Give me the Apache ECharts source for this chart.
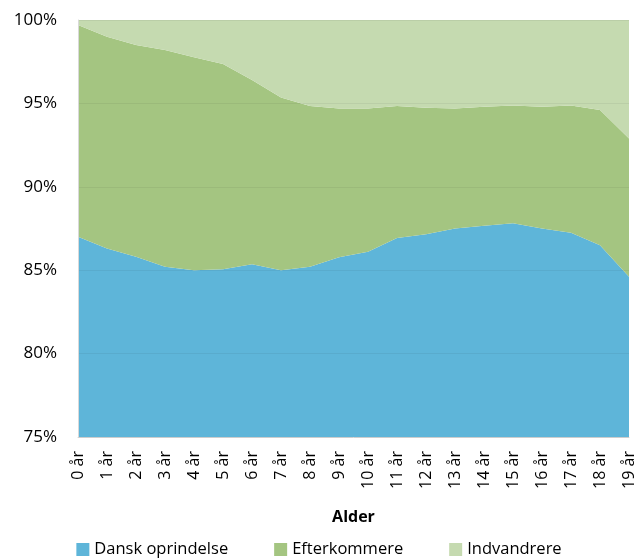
<!DOCTYPE html>
<html><head><meta charset="utf-8">
<script src="https://cdn.jsdelivr.net/npm/echarts@6/dist/echarts.min.js"></script>
<style>html,body{margin:0;padding:0;background:#fff}#c{width:638px;height:559px}</style>
</head><body><div id="c"></div>
<script>
const categories = ['0 år','1 år','2 år','3 år','4 år','5 år','6 år','7 år','8 år','9 år','10 år','11 år','12 år','13 år','14 år','15 år','16 år','17 år','18 år','19 år'];
const dansk = [87.0,86.3,85.8,85.2,85.0,85.05,85.35,85.0,85.2,85.77,86.1,86.93,87.15,87.5,87.67,87.81,87.5,87.25,86.5,84.6];
const efterkommere = [12.7,12.7,12.7,13.0,12.76,12.31,11.05,10.36,9.64,8.93,8.6,7.91,7.59,7.2,7.13,7.07,7.3,7.63,8.1,8.3];
const indvandrere = [0.3,1.0,1.5,1.8,2.24,2.64,3.6,4.64,5.16,5.3,5.3,5.16,5.26,5.3,5.2,5.12,5.2,5.12,5.4,7.1];
const yTicks = [75,80,85,90,95,100];
const seriesNames = ['Dansk oprindelse','Efterkommere','Indvandrere'];
const colors = ['#5EB5D9','#A4C581','#C5DAB0'];
const FONT = 'Open Sans';
const chart = echarts.init(document.getElementById('c'), null, {renderer:'canvas'});
const mk = (name, data, i) => ({
  name, type:'line', stack:'total', data, symbol:'none', smooth:false,
  lineStyle:{width:0}, itemStyle:{color:colors[i]},
  areaStyle:{color:colors[i], opacity:1}, z:2
});
chart.setOption({
  animation:false,
  textStyle:{fontFamily:FONT},
  grid:{left:78, right:9, top:20, bottom:122, containLabel:false},
  legend:{
    top:536, left:'center', itemWidth:13, itemHeight:13, itemGap:46, icon:'rect',
    textStyle:{fontFamily:FONT, fontSize:16.5, color:'#000'},
    data:seriesNames
  },
  xAxis:{
    type:'category', data:categories, boundaryGap:false,
    axisLine:{show:true, lineStyle:{color:'#d9d9d9', width:1}},
    axisTick:{show:false},
    axisLabel:{rotate:90, interval:0, fontSize:16, color:'#000', margin:14, fontFamily:FONT},
    name:'Alder', nameLocation:'middle', nameGap:72,
    nameTextStyle:{fontWeight:'bold', fontSize:16, color:'#000', fontFamily:FONT}
  },
  yAxis:{
    type:'value', min:yTicks[0], max:yTicks[yTicks.length-1], interval:5, z:3,
    axisLine:{show:true, lineStyle:{color:'#d9d9d9'}},
    axisTick:{show:false},
    splitLine:{show:true, lineStyle:{color:'rgba(0,0,0,0.05)', width:1}},
    axisLabel:{formatter:v=>v+'%', fontSize:17, color:'#000', margin:21, fontFamily:FONT}
  },
  series:[mk(seriesNames[0],dansk,0), mk(seriesNames[1],efterkommere,1), mk(seriesNames[2],indvandrere,2)]
});
</script></body></html>
